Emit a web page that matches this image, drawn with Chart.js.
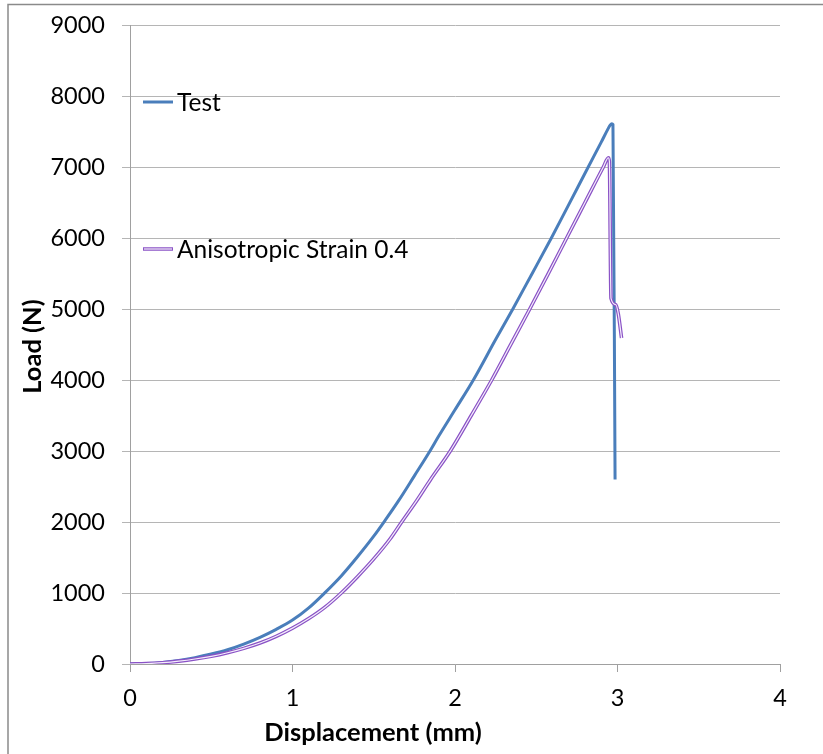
<!DOCTYPE html>
<html>
<head>
<meta charset="utf-8">
<script src="https://cdn.jsdelivr.net/npm/chart.js@4.4.1/dist/chart.umd.min.js"></script>
<style>
  html, body { margin: 0; padding: 0; background: #ffffff; }
  #wrap { width: 823px; height: 754px; position: relative; }
</style>
</head>
<body>
<div id="wrap"><canvas id="c" width="823" height="754"></canvas></div>
<script>
// ---- data ----
const xTicks = [0, 1, 2, 3, 4];
const yTicks = [0, 1000, 2000, 3000, 4000, 5000, 6000, 7000, 8000, 9000];
const seriesNames = ['Test', 'Anisotropic Strain 0.4'];
const xTitle = 'Displacement (mm)';
const yTitle = 'Load (N)';

const testX = [0, 0.1, 0.2, 0.3, 0.4, 0.5, 0.6, 0.7, 0.8, 0.9, 1.0, 1.1, 1.2, 1.3, 1.4, 1.5, 1.575, 1.65, 1.75, 1.846, 1.9, 2.0, 2.113, 2.25, 2.356, 2.47, 2.593, 2.7, 2.82, 2.9, 2.94, 2.955, 2.965, 2.972, 2.985];
const testY = [0, 6, 22, 50, 90, 140, 200, 280, 375, 488, 618, 790, 1005, 1240, 1510, 1800, 2040, 2290, 2650, 3000, 3210, 3580, 4000, 4570, 5000, 5480, 6000, 6470, 7000, 7350, 7530, 7590, 7610, 7600, 2600];

const anisoX = [0, 0.1, 0.2, 0.3, 0.4, 0.5, 0.6, 0.7, 0.8, 0.9, 1.0, 1.1, 1.2, 1.3, 1.4, 1.5, 1.6, 1.672, 1.764, 1.85, 1.971, 2.1, 2.226, 2.35, 2.46, 2.57, 2.687, 2.8, 2.913, 2.944, 2.950, 2.960, 2.990, 3.005, 3.025];
const anisoY = [0, 5, 18, 40, 70, 108, 158, 220, 295, 390, 505, 640, 800, 1000, 1230, 1480, 1760, 2000, 2300, 2600, 3000, 3500, 4000, 4530, 5000, 5480, 6000, 6500, 7000, 7130, 7080, 5150, 5060, 4930, 4590];

// ---- styles ----
const FONT = 'Lato, "Open Sans", "DejaVu Sans", sans-serif';
const BLUE = '#4a7ebb';
const PURPLE = '#8a52c6';
const PURPLE_INNER = '#f4eefb';
const GRID = '#b5b5b5';
const AXIS = '#a0a0a0';

const toPts = (xs, ys) => xs.map((x, i) => ({ x: x, y: ys[i] }));

const frame = {
  id: 'frame',
  beforeDraw(chart) {
    const ctx = chart.ctx;
    ctx.save();
    ctx.fillStyle = '#ffffff';
    ctx.fillRect(0, 0, chart.width, chart.height);
    ctx.strokeStyle = '#8a8a8a';
    ctx.lineWidth = 1.5;
    ctx.strokeRect(8, 4.5, chart.width + 20, chart.height + 20);
    ctx.restore();
  }
};

const titlesAndLegend = {
  id: 'titlesAndLegend',
  afterDraw(chart) {
    const ctx = chart.ctx;
    const a = chart.chartArea;
    ctx.save();
    ctx.fillStyle = '#000000';
    // axis titles
    ctx.font = 'bold 25.5px ' + FONT;
    ctx.textAlign = 'center';
    ctx.textBaseline = 'middle';
    ctx.fillText(xTitle, a.left + 243, a.bottom + 69);
    ctx.translate(33, (a.top + a.bottom) / 2 + 2);
    ctx.rotate(-Math.PI / 2);
    ctx.fillText(yTitle, 0, 0);
    ctx.restore();

    // legend
    ctx.save();
    ctx.font = '24.5px ' + FONT;
    ctx.textAlign = 'left';
    ctx.textBaseline = 'middle';
    ctx.fillStyle = '#000000';
    const lx0 = a.left + 13, lx1 = a.left + 43, tx = a.left + 47;
    const y1 = a.top + 77, y2 = a.top + 224;
    ctx.lineCap = 'butt';
    ctx.strokeStyle = BLUE; ctx.lineWidth = 3;
    ctx.beginPath(); ctx.moveTo(lx0, y1); ctx.lineTo(lx1, y1); ctx.stroke();
    ctx.fillText(seriesNames[0], tx, y1 + 1);
    ctx.strokeStyle = PURPLE; ctx.lineWidth = 3.5;
    ctx.beginPath(); ctx.moveTo(lx0, y2); ctx.lineTo(lx1, y2); ctx.stroke();
    ctx.strokeStyle = PURPLE_INNER; ctx.lineWidth = 1.2;
    ctx.beginPath(); ctx.moveTo(lx0 + 1, y2); ctx.lineTo(lx1 - 1, y2); ctx.stroke();
    ctx.fillText(seriesNames[1], tx, y2 + 1);
    ctx.restore();
  }
};

new Chart(document.getElementById('c'), {
  type: 'scatter',
  data: {
    datasets: [
      {
        label: '',
        data: toPts(anisoX, anisoY),
        showLine: true,
        borderColor: PURPLE_INNER,
        borderWidth: 1.2,
        pointRadius: 0,
        cubicInterpolationMode: 'monotone',
        order: 0
      },
      {
        label: seriesNames[1],
        data: toPts(anisoX, anisoY),
        showLine: true,
        borderColor: PURPLE,
        borderWidth: 3.6,
        pointRadius: 0,
        cubicInterpolationMode: 'monotone',
        order: 1
      },
      {
        label: seriesNames[0],
        data: toPts(testX, testY),
        showLine: true,
        borderColor: BLUE,
        borderWidth: 3,
        pointRadius: 0,
        cubicInterpolationMode: 'monotone',
        order: 2
      }
    ]
  },
  options: {
    responsive: false,
    animation: false,
    devicePixelRatio: 1,
    layout: { padding: { left: 0, top: 25, right: 43, bottom: 0 } },
    plugins: {
      legend: { display: false },
      tooltip: { enabled: false }
    },
    scales: {
      x: {
        type: 'linear',
        min: 0, max: 4,
        afterBuildTicks: s => { s.ticks = xTicks.map(v => ({ value: v })); },
        afterFit: s => { s.height = 90; s.paddingLeft = 0; s.paddingRight = 0; },
        ticks: { font: { family: FONT, size: 23.5 }, color: '#000000', padding: 12, maxRotation: 0,
                 callback: v => String(v) },
        grid: { drawOnChartArea: false, drawTicks: true, tickLength: 8, color: AXIS },
        border: { display: true, color: AXIS, width: 1 }
      },
      y: {
        type: 'linear',
        min: 0, max: 9000,
        afterBuildTicks: s => { s.ticks = yTicks.map(v => ({ value: v })); },
        afterFit: s => { s.width = 130; s.paddingTop = 0; s.paddingBottom = 0; },
        ticks: { font: { family: FONT, size: 23.5 }, color: '#000000', padding: 17,
                 callback: v => String(v) },
        grid: { drawOnChartArea: true, drawTicks: true, tickLength: 8, color: GRID },
        border: { display: true, color: AXIS, width: 1 }
      }
    }
  },
  plugins: [frame, titlesAndLegend]
});
</script>
</body>
</html>
